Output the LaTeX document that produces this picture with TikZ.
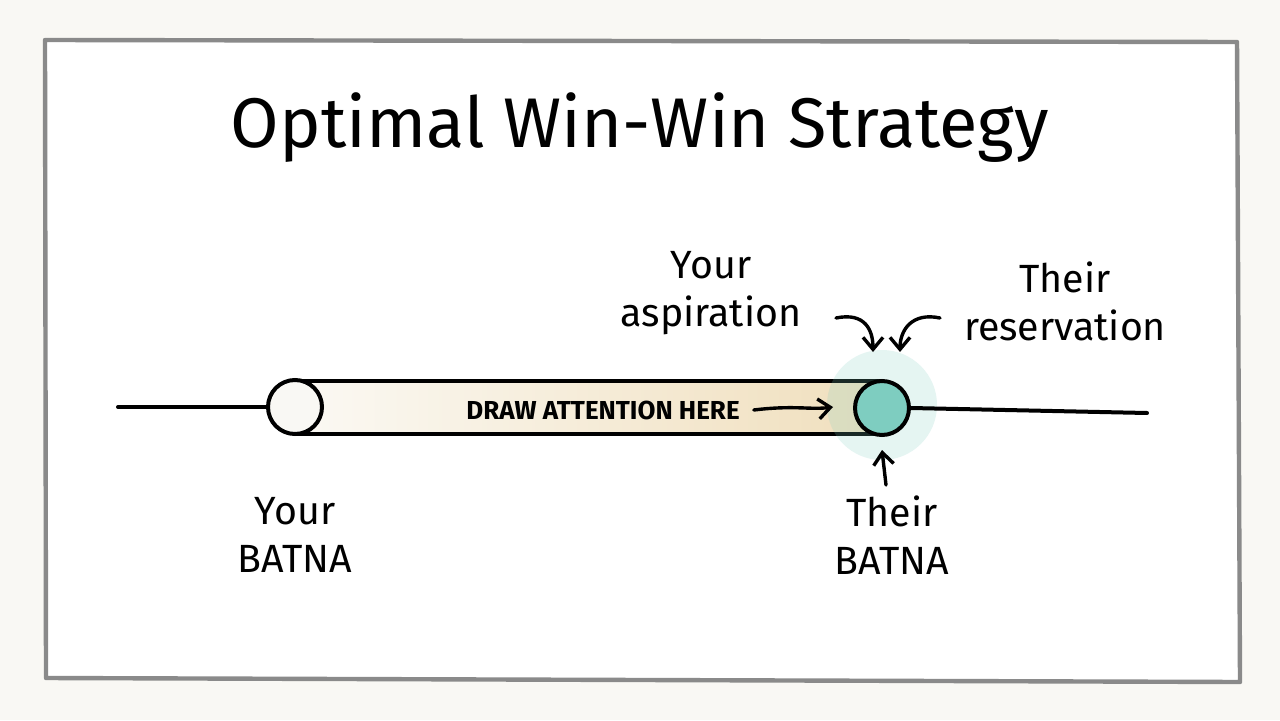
\documentclass[tikz,border=0pt]{standalone}
\usepackage{fontspec}
\setmainfont{Fira Sans}
\usetikzlibrary{arrows.meta}
\definecolor{bgc}{HTML}{F9F8F4}
\definecolor{framec}{HTML}{8A8A8A}
\definecolor{teal}{HTML}{7ECDC0}
\definecolor{tanr}{HTML}{F0DFBD}
\definecolor{tanl}{HTML}{FBF9F4}
\tikzset{
  ink/.style={line width=2mm, line cap=round, line join=round, black},
  lbl/.style={font=\fontsize{56}{68}\selectfont, align=center, text=black, inner sep=0pt},
  pointer/.style={line width=1.7mm, line cap=round, -{Straight Barb[length=6mm,width=10mm,line width=1.7mm]}},
}
\begin{document}
\begin{tikzpicture}[x=0.5mm,y=-0.5mm]
\useasboundingbox (0,0) rectangle (1280,720);
\fill[bgc] (0,0) rectangle (1280,720);
\draw[framec, fill=white, line width=2.2mm, line join=round] (45,40) -- (1237,42) -- (1240,682) -- (46,678) -- cycle;

\node[inner sep=0pt, font=\fontsize{100}{110}\selectfont] (title) at (640,128) {Optimal Win-Win Strategy};

% tube
\shade[left color=tanl, right color=tanr] (295,381) rectangle (880,434);
\coordinate (tl) at (295,381); \coordinate (tr) at (880,381);
\coordinate (bl) at (295,434); \coordinate (br) at (880,434);
\draw[ink] (tl) -- (tr);
\draw[ink] (bl) -- (br);

% halo
\node[circle, fill=teal, opacity=0.2, minimum size=110*0.5mm, inner sep=0pt] (halo) at (882,405) {};

% main line
\coordinate (lend) at (118,407);
\coordinate (rend) at (1147,413);
\node[circle, draw, line width=2mm, fill=bgc, minimum size=54*0.5mm, inner sep=0pt] (yb) at (295,407) {};
\node[circle, draw, line width=2mm, fill=teal, minimum size=54*0.5mm, inner sep=0pt] (tb) at (882,408) {};
\draw[ink] (lend) -- (yb.west);
\draw[ink] (tb.east) -- (rend);

% inner label
\node[inner sep=0pt, font=\fontsize{37}{44}\selectfont\bfseries] (draw) at (603,410) {DRAW ATTENTION HERE};
\coordinate (da) at (833,407);
\draw[pointer] (draw.east) ++(14,0) coordinate (ds) (ds) .. controls (795,405) and (810,410) .. (da);

% labels
\node[lbl] (asp) at (711,293) {Your\\aspiration};
\node[lbl] (res) at (1065,301) {Their\\reservation};
\node[lbl] (tbt) at (892,535) {Their\\BATNA};
\node[lbl] (ybt) at (295,535) {Your\\BATNA};

% arrows to teal point
\coordinate (a1s) at (836,318); \coordinate (a1e) at (873,352);
\coordinate (a2s) at (940,318); \coordinate (a2e) at (900,352);
\draw[pointer] (a1s) .. controls (865,312) and (873,330) .. (a1e);
\draw[pointer] (a2s) .. controls (912,312) and (900,330) .. (a2e);
\coordinate (a3s) at (886,485);
\draw[pointer] (a3s) -- (tb.south |- 0,450);
\end{tikzpicture}
\end{document}
